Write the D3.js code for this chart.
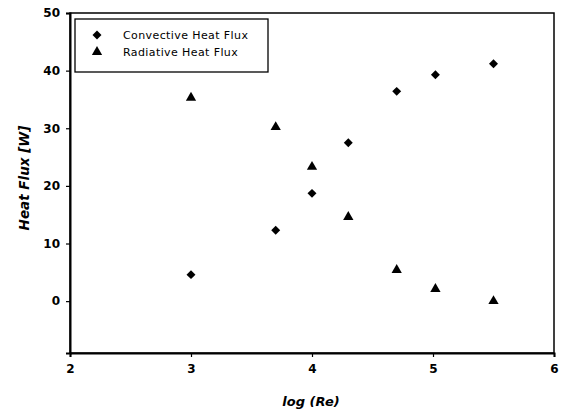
<!DOCTYPE html>
<html>
<head>
<meta charset="utf-8">
<script src="https://cdn.jsdelivr.net/npm/d3@7"></script>
<style>
  body { margin: 0; background: #fff; }
  text { font-family: "DejaVu Sans", sans-serif; fill: #000; }
</style>
</head>
<body>
<div id="chart"></div>
<script>
const width = 561, height = 414;

// log(Re) positions
const logRe = [3.0, 3.7, 4.0, 4.3, 4.7, 5.02, 5.5];
const convective = [4.6, 12.3, 18.7, 27.5, 36.4, 39.3, 41.2];
const radiative = [35.3, 30.2, 23.3, 14.6, 5.4, 2.1, 0.0];
const xTicks = [2, 3, 4, 5, 6];
const yTicks = [0, 10, 20, 30, 40, 50];
const seriesNames = ["Convective Heat Flux", "Radiative Heat Flux"];

const margin = {left: 70, right: 7, top: 13, bottom: 61};

const x = d3.scaleLinear().domain([2, 6]).range([margin.left, width - margin.right]);
const y = d3.scaleLinear().domain([-9, 50]).range([height - margin.bottom, margin.top]);

const svg = d3.select("#chart").append("svg")
    .attr("width", width).attr("height", height);

// frame
svg.append("rect")
    .attr("x", x(2)).attr("y", y(50))
    .attr("width", x(6) - x(2)).attr("height", y(-9) - y(50))
    .attr("fill", "none").attr("stroke", "#000").attr("stroke-width", 1.5);

const gx = svg.append("g")
    .attr("transform", `translate(0,${y(-9)})`)
    .call(d3.axisBottom(x).tickValues(xTicks).tickSize(4).tickPadding(7).tickFormat(d3.format("d")));
const gy = svg.append("g")
    .attr("transform", `translate(${x(2)},0)`)
    .call(d3.axisLeft(y).tickValues(yTicks).tickSize(4).tickPadding(6).tickFormat(d3.format("d")));

[gx, gy].forEach(g => {
    g.select(".domain").attr("stroke-width", 2);
    g.selectAll(".tick line").attr("stroke-width", 1.2);
    g.selectAll(".tick text").attr("font-size", 12).attr("font-weight", "bold")
        .attr("font-family", "'DejaVu Sans', sans-serif");
});

// axis titles
svg.append("text")
    .attr("x", 311).attr("y", 406)
    .attr("text-anchor", "middle")
    .attr("font-size", 13).attr("font-weight", "bold").attr("font-style", "italic")
    .text("log (Re)");
svg.append("text")
    .attr("transform", "translate(29,178) rotate(-90)")
    .attr("text-anchor", "middle")
    .attr("font-size", 13.5).attr("font-weight", "bold").attr("font-style", "italic")
    .text("Heat Flux [W]");

const diamond = d3.symbol().type(d3.symbolSquare).size(40);
const triangle = d3.symbol().type(d3.symbolTriangle).size(46);

svg.append("g").selectAll("path")
    .data(logRe.map((d, i) => [d, convective[i]]))
    .join("path")
    .attr("transform", d => `translate(${x(d[0])},${y(d[1])}) rotate(45)`)
    .attr("d", diamond)
    .attr("fill", "#000");

svg.append("g").selectAll("path")
    .data(logRe.map((d, i) => [d, radiative[i]]))
    .join("path")
    .attr("transform", d => `translate(${x(d[0])},${y(d[1])})`)
    .attr("d", triangle)
    .attr("fill", "#000");

// legend
const lg = svg.append("g");
lg.append("rect")
    .attr("x", 75).attr("y", 19).attr("width", 193).attr("height", 53)
    .attr("fill", "#fff").attr("stroke", "#000").attr("stroke-width", 1.3);
lg.append("path").attr("d", diamond)
    .attr("transform", "translate(97,35) rotate(45)").attr("fill", "#000");
lg.append("path").attr("d", triangle)
    .attr("transform", "translate(97,52)").attr("fill", "#000");
lg.selectAll("text.lab").data(seriesNames).join("text")
    .attr("class", "lab")
    .attr("x", 123).attr("y", (d, i) => 39 + i * 17)
    .attr("font-size", 11).attr("letter-spacing", 0.4)
    .text(d => d);
</script>
</body>
</html>
